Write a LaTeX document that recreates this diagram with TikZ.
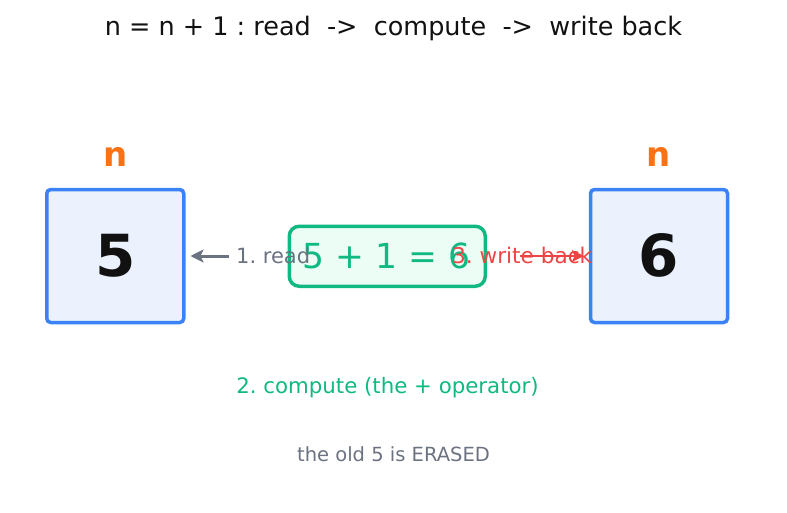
\documentclass[tikz,border=0pt]{standalone}
\usepackage{fontspec}
\setmainfont{DejaVu Sans}
\usetikzlibrary{arrows.meta,positioning}
\definecolor{boxblue}{HTML}{3B82F6}
\definecolor{boxfill}{HTML}{EBF2FE}
\definecolor{opgreen}{HTML}{10B981}
\definecolor{opfill}{HTML}{ECFDF5}
\definecolor{varorange}{HTML}{F97316}
\definecolor{wred}{HTML}{EF4444}
\definecolor{rgray}{HTML}{6B7280}
\definecolor{ink}{HTML}{111111}
\frenchspacing

\begin{document}
\begin{tikzpicture}[x=1pt,y=-1pt,
  varbox/.style={draw=boxblue,fill=boxfill,line width=3.5pt,rounded corners=4pt,
    minimum width=137pt,minimum height=133pt,inner sep=0pt},
  opbox/.style={draw=opgreen,fill=opfill,line width=3.5pt,rounded corners=10pt,
    minimum width=196pt,minimum height=60pt,inner sep=0pt},
  txt/.style={inner sep=0pt,anchor=base},
  varname/.style={txt,text=varorange,font=\fontsize{34}{40}\selectfont\bfseries},
  value/.style={txt,text=ink,font=\fontsize{58}{64}\selectfont\bfseries},
  steplbl/.style={txt,anchor=base west,font=\fontsize{21}{24}\selectfont}]
  \useasboundingbox (0,0) rectangle (787,512);
%Titel
  \node[txt,text=ink,font=\fontsize{25.5}{30}\selectfont] (title) at (393.5,35)
    {n = n + 1 : read\ \ ->\ \ compute\ \ ->\ \ write back};
%die zwei Kaesten fuer n
  \node[varbox] (oldbox) at (115.25,256) {};
  \node[varbox] (newbox) at (659,256) {};
  \node[varname] (oldname) at (115.25,166) {n};
  \node[varname] (newname) at (659,166) {n};
  \node[value] (oldval) at (115.25,276) {5};
  \node[value] (newval) at (659,276) {6};
%Rechnung in der Mitte
  \node[opbox] (op) at (387.25,256.25) {};
  \node[txt,text=opgreen,font=\fontsize{34.5}{40}\selectfont] (optext) at (386.5,268) {5 + 1 = 6};
  \node[steplbl,text=rgray] (readlbl) at (236,263) {1. read};
  \node[steplbl,text=wred,font=\fontsize{21.6}{24}\selectfont] (writelbl) at (452,263) {3. write back};
  \coordinate (wstart) at (520,256);
  \draw[rgray,line width=3pt,-{Stealth[length=13pt,width=13pt,inset=3pt]}]
    (readlbl.west |- oldbox.east) ++(-7,0) -- ([xshift=5pt]oldbox.east);
  \draw[wred,line width=2.5pt,-{Stealth[length=12pt,width=12pt,inset=3pt]}]
    (wstart) -- ([xshift=-5pt]newbox.west);
  \node[txt,text=opgreen,font=\fontsize{21.3}{25}\selectfont] (computelbl) at (387.5,393)
    {2. compute (the + operator)};
  \node[txt,text=rgray,font=\fontsize{19.5}{23}\selectfont] (erased) at (393.5,461)
    {the old 5 is ERASED};
\end{tikzpicture}
\end{document}
